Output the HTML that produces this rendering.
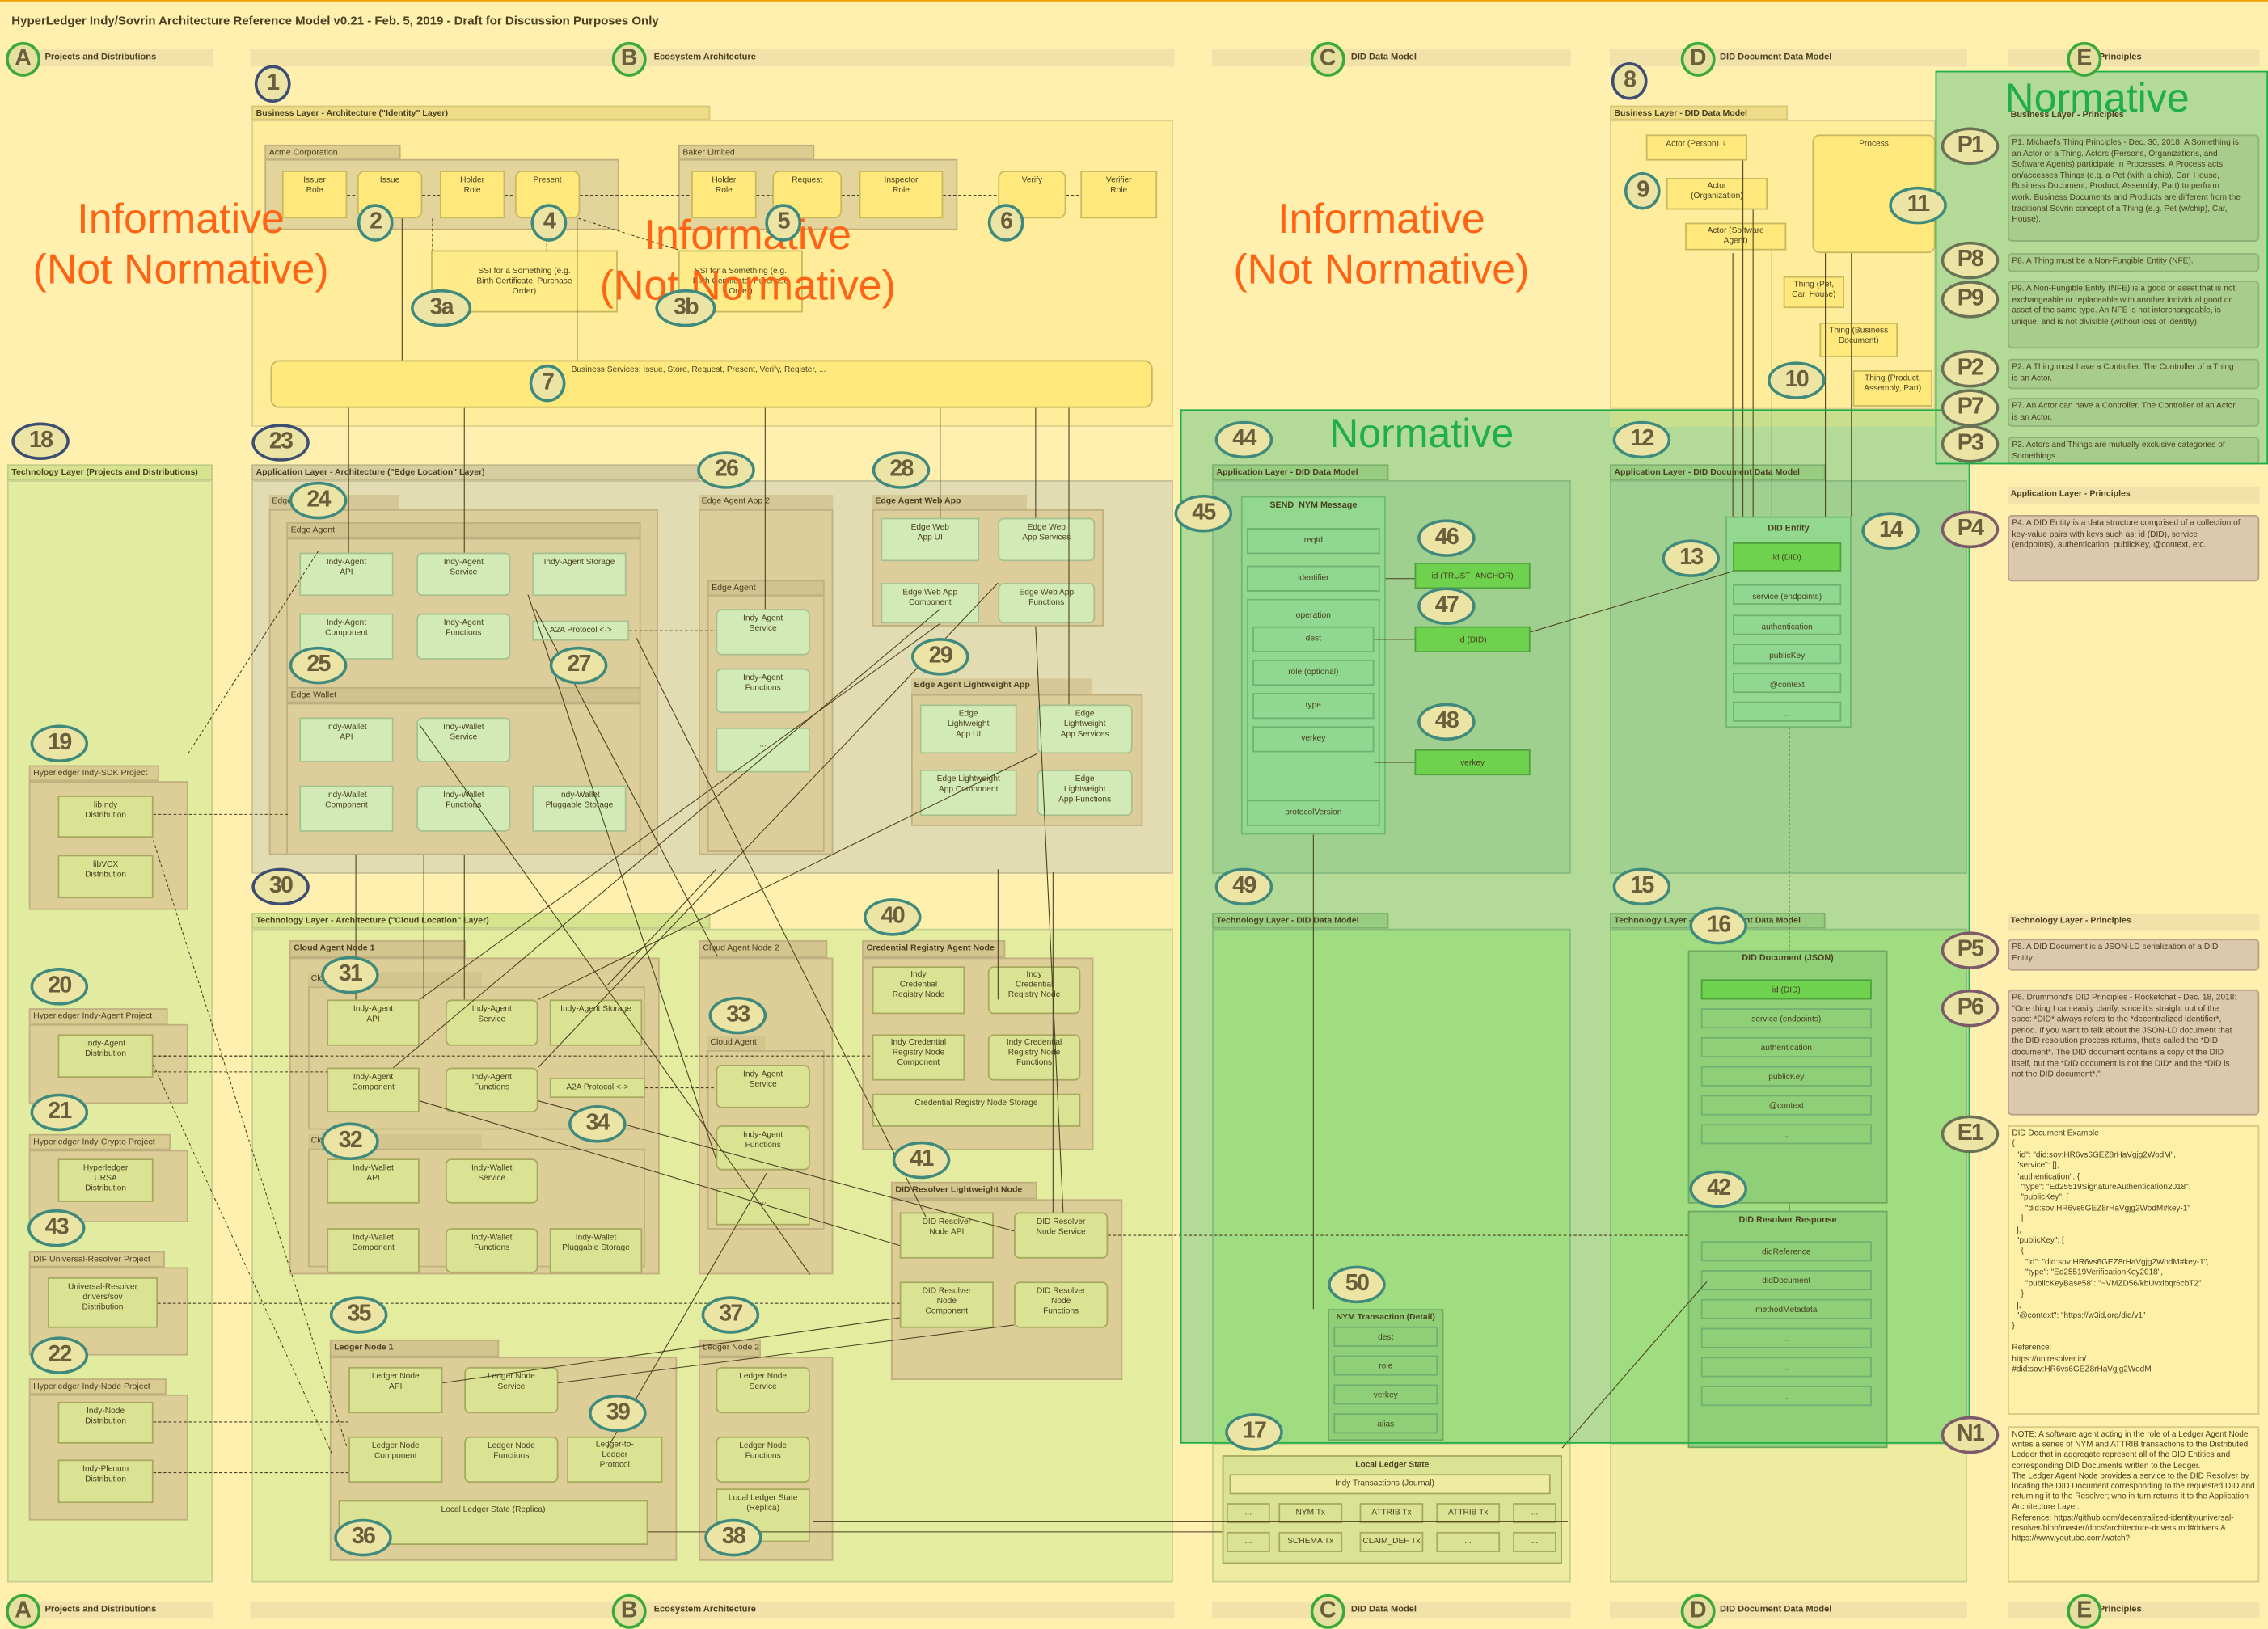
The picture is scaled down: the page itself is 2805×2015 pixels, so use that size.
<!DOCTYPE html>
<html><head><meta charset="utf-8">
<style>
html,body{margin:0;padding:0;width:2805px;height:2013px;overflow:hidden;background:#fff0b0}
#w{position:absolute;left:0;top:0;width:1568px;height:1125px;transform:scale(1.78890,1.78933);transform-origin:0 0;font-family:"Liberation Sans Narrow","Liberation Sans",sans-serif;color:#4a4020;background:#fff0b0;border-top:1px solid #f0a000}
.a{position:absolute;box-sizing:border-box}
.h{font-size:5.9px;line-height:10px;padding-left:2px;white-space:nowrap;overflow:hidden}
.hb{font-weight:bold}
.e{position:absolute;box-sizing:border-box;border:0.8px solid #a89c60;font-size:5.7px;line-height:7.2px;text-align:center;padding:3px 5px 0 5px;overflow:hidden}
.y{background:#ffe97c;border-color:#c8b860}
.gr{background:#d2ebb6;border-color:#a8c090}
.ol{background:#dae394;border-color:#a8a860}
.dg{background:#9ed88e;border-color:#70b070}
.bg{background:#6fd24e;border-color:#50a040}
.g{position:absolute;box-sizing:border-box;border-radius:50%;border:2.6px solid #3f8a7c;background:#ece4a4;color:#6a5e3c;font-weight:bold;font-size:16px;letter-spacing:-1px;text-align:center;line-height:21px;height:26px}
.nv{border-color:#3e4e72}
.lg{border-color:#3aa83a;border-width:2.2px;background:#e6e0a0;letter-spacing:0}
.pp{border-color:#7c5a6a}
.pg{border-color:#6a7256}
.bar{position:absolute;height:12px;background:#f2e2aa;font-size:6.2px;font-weight:bold;line-height:12px}
.inf{position:absolute;color:#ff6414;font-size:29px;text-align:center;line-height:35px;white-space:nowrap}
.nor{position:absolute;color:#1fae48;font-size:28px;white-space:nowrap}
.p{position:absolute;box-sizing:border-box;font-size:5.7px;line-height:7.6px;padding:2px 12px 2px 2px;border:0.8px solid #b8a088;border-radius:3px;background:#dcc8ac;overflow:hidden}
</style></head><body><div id="w">

<div class="a" style="left:8px;top:8px;font-size:8.4px;font-weight:bold">HyperLedger Indy/Sovrin Architecture Reference Model v0.21 - Feb. 5, 2019 - Draft for Discussion Purposes Only</div>

<div class="bar" style="left:5px;top:33px;width:142px"><span style="margin-left:26px">Projects and Distributions</span></div>
<div class="bar" style="left:173px;top:33px;width:639px"><span style="margin-left:279px">Ecosystem Architecture</span></div>
<div class="bar" style="left:838px;top:33px;width:248px"><span style="margin-left:96px">DID Data Model</span></div>
<div class="bar" style="left:1113px;top:33px;width:247px"><span style="margin-left:76px">DID Document Data Model</span></div>
<div class="bar" style="left:1388px;top:33px;width:174px"><span style="margin-left:63px">Principles</span></div>
<div class="bar" style="left:5px;top:1106px;width:142px"><span style="margin-left:26px">Projects and Distributions</span></div>
<div class="bar" style="left:173px;top:1106px;width:639px"><span style="margin-left:279px">Ecosystem Architecture</span></div>
<div class="bar" style="left:838px;top:1106px;width:248px"><span style="margin-left:96px">DID Data Model</span></div>
<div class="bar" style="left:1113px;top:1106px;width:247px"><span style="margin-left:76px">DID Document Data Model</span></div>
<div class="bar" style="left:1388px;top:1106px;width:174px"><span style="margin-left:63px">Principles</span></div>

<div class="a h hb" style="left:174px;top:72px;width:317px;height:10px;background:#eedc88;border:0.6px solid #d8c878">Business Layer - Architecture ("Identity" Layer)</div>
<div class="a" style="left:174px;top:82px;width:637px;height:212px;background:#ffed9c;border:0.6px solid #e0d090"></div>
<div class="a h" style="left:183px;top:99px;width:94px;height:10px;background:#dccc90;border:0.6px solid #c0b080">Acme Corporation</div>
<div class="a" style="left:183px;top:109px;width:245px;height:49px;background:#e2d49a;border:0.6px solid #c0b080"></div>
<div class="a h" style="left:469px;top:99px;width:94px;height:10px;background:#dccc90;border:0.6px solid #c0b080">Baker Limited</div>
<div class="a" style="left:469px;top:109px;width:193px;height:49px;background:#e2d49a;border:0.6px solid #c0b080"></div>
<div class="e y" style="left:195px;top:117px;width:45px;height:33px">Issuer<br>Role</div>
<div class="e y" style="left:247px;top:117px;width:45px;height:33px;border-radius:5px">Issue</div>
<div class="e y" style="left:304px;top:117px;width:45px;height:33px">Holder<br>Role</div>
<div class="e y" style="left:356px;top:117px;width:45px;height:33px;border-radius:5px">Present</div>
<div class="e y" style="left:478px;top:117px;width:45px;height:33px">Holder<br>Role</div>
<div class="e y" style="left:534px;top:117px;width:48px;height:33px;border-radius:5px">Request</div>
<div class="e y" style="left:594px;top:117px;width:58px;height:33px">Inspector<br>Role</div>
<div class="e y" style="left:690px;top:117px;width:47px;height:33px;border-radius:5px">Verify</div>
<div class="e y" style="left:747px;top:117px;width:53px;height:33px">Verifier<br>Role</div>
<div class="e y" style="left:298px;top:172px;width:129px;height:43px;padding-top:11px;background:#ffec88">SSI for a Something (e.g.<br>Birth Certificate, Purchase<br>Order)</div>
<div class="e y" style="left:469px;top:172px;width:86px;height:43px;padding-top:11px;background:#ffec88">SSI for a Something (e.g.<br>Birth Certificate, Purchase<br>Order)</div>
<div class="e y" style="left:187px;top:248px;width:610px;height:33px;border-radius:6px;text-align:left;padding-left:207px">Business Services: Issue, Store, Request, Present, Verify, Register, ...</div>

<div class="a h hb" style="left:174px;top:320px;width:309px;height:11px;background:#d4cea0;border:0.6px solid #c0b888">Application Layer - Architecture ("Edge Location" Layer)</div>
<div class="a" style="left:174px;top:331px;width:637px;height:272px;background:#e2dcb2;border:0.6px solid #c8c098"></div>
<div class="a h" style="left:186px;top:341px;width:90px;height:10px;background:#d6c896">Edge Agent App</div>
<div class="a" style="left:186px;top:351px;width:269px;height:239px;background:#dccd9a;border:0.6px solid #c0b080"></div>
<div class="a h" style="left:198px;top:360px;width:245px;height:11px;background:#d2c290;border:0.6px solid #c0b080">Edge Agent</div>
<div class="a" style="left:198px;top:371px;width:245px;height:105px;background:#dccd9a;border:0.6px solid #c0b080"></div>
<div class="a h" style="left:198px;top:474px;width:245px;height:11px;background:#d2c290;border:0.6px solid #c0b080">Edge Wallet</div>
<div class="a" style="left:198px;top:485px;width:245px;height:105px;background:#dccd9a;border:0.6px solid #c0b080"></div>
<div class="e gr" style="left:207px;top:381px;width:65px;height:30px">Indy-Agent<br>API</div>
<div class="e gr" style="left:288px;top:381px;width:65px;height:30px;border-radius:4px">Indy-Agent<br>Service</div>
<div class="e gr" style="left:368px;top:381px;width:65px;height:30px">Indy-Agent Storage</div>
<div class="e gr" style="left:207px;top:423px;width:65px;height:32px">Indy-Agent<br>Component</div>
<div class="e gr" style="left:288px;top:423px;width:65px;height:32px;border-radius:4px">Indy-Agent<br>Functions</div>
<div class="e gr" style="left:368px;top:428px;width:67px;height:14px;padding-top:3px">A2A Protocol &lt;·&gt;</div>
<div class="e gr" style="left:207px;top:495px;width:65px;height:31px">Indy-Wallet<br>API</div>
<div class="e gr" style="left:288px;top:495px;width:65px;height:31px;border-radius:4px">Indy-Wallet<br>Service</div>
<div class="e gr" style="left:207px;top:542px;width:65px;height:32px">Indy-Wallet<br>Component</div>
<div class="e gr" style="left:288px;top:542px;width:65px;height:32px;border-radius:4px">Indy-Wallet<br>Functions</div>
<div class="e gr" style="left:368px;top:542px;width:65px;height:32px">Indy-Wallet<br>Pluggable Storage</div>

<div class="a h" style="left:483px;top:341px;width:93px;height:10px;background:#d6c896">Edge Agent App 2</div>
<div class="a" style="left:483px;top:351px;width:93px;height:239px;background:#dccd9a;border:0.6px solid #c0b080"></div>
<div class="a h" style="left:489px;top:400px;width:81px;height:11px;background:#d2c290;border:0.6px solid #c0b080">Edge Agent</div>
<div class="a" style="left:489px;top:411px;width:81px;height:177px;background:#dccd9a;border:0.6px solid #c0b080"></div>
<div class="e gr" style="left:495px;top:420px;width:65px;height:32px;border-radius:4px">Indy-Agent<br>Service</div>
<div class="e gr" style="left:495px;top:461px;width:65px;height:31px;border-radius:4px">Indy-Agent<br>Functions</div>
<div class="e gr" style="left:495px;top:502px;width:65px;height:31px;padding-top:8px">...</div>

<div class="a h hb" style="left:603px;top:341px;width:107px;height:10px;background:#d6c896">Edge Agent Web App</div>
<div class="a" style="left:603px;top:351px;width:160px;height:81px;background:#dccd9a;border:0.6px solid #c0b080"></div>
<div class="e gr" style="left:609px;top:357px;width:68px;height:30px">Edge Web<br>App UI</div>
<div class="e gr" style="left:690px;top:357px;width:67px;height:30px;border-radius:4px">Edge Web<br>App Services</div>
<div class="e gr" style="left:609px;top:402px;width:68px;height:28px">Edge Web App<br>Component</div>
<div class="e gr" style="left:690px;top:402px;width:67px;height:28px;border-radius:4px">Edge Web App<br>Functions</div>

<div class="a h hb" style="left:630px;top:468px;width:125px;height:11px;background:#d6c896">Edge Agent Lightweight App</div>
<div class="a" style="left:630px;top:479px;width:160px;height:91px;background:#dccd9a;border:0.6px solid #c0b080"></div>
<div class="e gr" style="left:636px;top:486px;width:67px;height:34px">Edge<br>Lightweight<br>App UI</div>
<div class="e gr" style="left:717px;top:486px;width:66px;height:34px;border-radius:4px">Edge<br>Lightweight<br>App Services</div>
<div class="e gr" style="left:636px;top:531px;width:67px;height:32px">Edge Lightweight<br>App Component</div>
<div class="e gr" style="left:717px;top:531px;width:66px;height:32px;border-radius:4px">Edge<br>Lightweight<br>App Functions</div>

<div class="a h hb" style="left:5px;top:320px;width:142px;height:11px;background:#d6e490;border:0.6px solid #c0cc88">Technology Layer (Projects and Distributions)</div>
<div class="a" style="left:5px;top:331px;width:142px;height:762px;background:#e2eca0;border:0.6px solid #c8d090"></div>
<div class="a h" style="left:20px;top:528px;width:90px;height:11px;background:#dacb92;border:0.6px solid #c0b080">Hyperledger Indy-SDK Project</div>
<div class="a" style="left:20px;top:539px;width:110px;height:89px;background:#ddce98;border:0.6px solid #c0b080"></div>
<div class="e ol" style="left:40px;top:549px;width:66px;height:29px">libIndy<br>Distribution</div>
<div class="e ol" style="left:40px;top:590px;width:66px;height:30px">libVCX<br>Distribution</div>
<div class="a h" style="left:20px;top:696px;width:96px;height:11px;background:#dacb92;border:0.6px solid #c0b080">Hyperledger Indy-Agent Project</div>
<div class="a" style="left:20px;top:707px;width:110px;height:55px;background:#ddce98;border:0.6px solid #c0b080"></div>
<div class="e ol" style="left:40px;top:714px;width:66px;height:30px">Indy-Agent<br>Distribution</div>
<div class="a h" style="left:20px;top:783px;width:98px;height:11px;background:#dacb92;border:0.6px solid #c0b080">Hyperledger Indy-Crypto Project</div>
<div class="a" style="left:20px;top:794px;width:110px;height:50px;background:#ddce98;border:0.6px solid #c0b080"></div>
<div class="e ol" style="left:40px;top:800px;width:66px;height:30px">Hyperledger<br>URSA<br>Distribution</div>
<div class="a h" style="left:20px;top:864px;width:94px;height:11px;background:#dacb92;border:0.6px solid #c0b080">DIF Universal-Resolver Project</div>
<div class="a" style="left:20px;top:875px;width:110px;height:61px;background:#ddce98;border:0.6px solid #c0b080"></div>
<div class="e ol" style="left:33px;top:882px;width:76px;height:35px">Universal-Resolver<br>drivers/sov<br>Distribution</div>
<div class="a h" style="left:20px;top:952px;width:95px;height:11px;background:#dacb92;border:0.6px solid #c0b080">Hyperledger Indy-Node Project</div>
<div class="a" style="left:20px;top:963px;width:110px;height:87px;background:#ddce98;border:0.6px solid #c0b080"></div>
<div class="e ol" style="left:40px;top:968px;width:66px;height:29px">Indy-Node<br>Distribution</div>
<div class="e ol" style="left:40px;top:1008px;width:66px;height:30px">Indy-Plenum<br>Distribution</div>

<div class="a h hb" style="left:174px;top:630px;width:317px;height:11px;background:#d6e490;border:0.6px solid #c0cc88">Technology Layer - Architecture ("Cloud Location" Layer)</div>
<div class="a" style="left:174px;top:641px;width:637px;height:452px;background:#e4eca0;border:0.6px solid #c8d090"></div>
<div class="a h hb" style="left:200px;top:649px;width:122px;height:12px;background:#d4c48e;border:0.6px solid #c0b080">Cloud Agent Node 1</div>
<div class="a" style="left:200px;top:661px;width:256px;height:219px;background:#ddce98;border:0.6px solid #c0b080"></div>
<div class="a h" style="left:213px;top:671px;width:120px;height:10px;background:#d4c48e">Cloud Agent</div>
<div class="a" style="left:213px;top:681px;width:233px;height:99px;background:#ddce98;border:0.6px solid #c0b080"></div>
<div class="a h" style="left:213px;top:783px;width:120px;height:10px;background:#d4c48e">Cloud Wallet</div>
<div class="a" style="left:213px;top:793px;width:233px;height:82px;background:#ddce98;border:0.6px solid #c0b080"></div>
<div class="e ol" style="left:226px;top:690px;width:64px;height:32px">Indy-Agent<br>API</div>
<div class="e ol" style="left:308px;top:690px;width:64px;height:32px;border-radius:4px">Indy-Agent<br>Service</div>
<div class="e ol" style="left:380px;top:690px;width:64px;height:32px">Indy-Agent Storage</div>
<div class="e ol" style="left:226px;top:737px;width:64px;height:31px">Indy-Agent<br>Component</div>
<div class="e ol" style="left:308px;top:737px;width:64px;height:31px;border-radius:4px">Indy-Agent<br>Functions</div>
<div class="e ol" style="left:380px;top:744px;width:66px;height:14px;padding-top:3px">A2A Protocol &lt;·&gt;</div>
<div class="e ol" style="left:226px;top:800px;width:64px;height:31px">Indy-Wallet<br>API</div>
<div class="e ol" style="left:308px;top:800px;width:64px;height:31px;border-radius:4px">Indy-Wallet<br>Service</div>
<div class="e ol" style="left:226px;top:848px;width:64px;height:31px">Indy-Wallet<br>Component</div>
<div class="e ol" style="left:308px;top:848px;width:64px;height:31px;border-radius:4px">Indy-Wallet<br>Functions</div>
<div class="e ol" style="left:380px;top:848px;width:64px;height:31px">Indy-Wallet<br>Pluggable Storage</div>

<div class="a h" style="left:483px;top:649px;width:89px;height:12px;background:#d4c48e;border:0.6px solid #c0b080">Cloud Agent Node 2</div>
<div class="a" style="left:483px;top:661px;width:93px;height:219px;background:#ddce98;border:0.6px solid #c0b080"></div>
<div class="a h" style="left:489px;top:715px;width:40px;height:10px;background:#d4c48e">Cloud Agent</div>
<div class="a" style="left:489px;top:725px;width:81px;height:124px;background:#ddce98;border:0.6px solid #c0b080"></div>
<div class="e ol" style="left:495px;top:735px;width:65px;height:30px;border-radius:4px">Indy-Agent<br>Service</div>
<div class="e ol" style="left:495px;top:777px;width:65px;height:31px;border-radius:4px">Indy-Agent<br>Functions</div>
<div class="e ol" style="left:495px;top:820px;width:65px;height:26px;padding-top:6px">...</div>

<div class="a h hb" style="left:596px;top:649px;width:99px;height:12px;background:#d4c48e;border:0.6px solid #c0b080">Credential Registry Agent Node</div>
<div class="a" style="left:596px;top:661px;width:160px;height:133px;background:#ddce98;border:0.6px solid #c0b080"></div>
<div class="e ol" style="left:603px;top:667px;width:64px;height:33px;padding-top:2px">Indy<br>Credential<br>Registry Node</div>
<div class="e ol" style="left:683px;top:667px;width:64px;height:33px;padding-top:2px;border-radius:4px">Indy<br>Credential<br>Registry Node</div>
<div class="e ol" style="left:603px;top:714px;width:64px;height:32px;padding-top:2px">Indy Credential<br>Registry Node<br>Component</div>
<div class="e ol" style="left:683px;top:714px;width:64px;height:32px;padding-top:2px;border-radius:4px">Indy Credential<br>Registry Node<br>Functions</div>
<div class="e ol" style="left:603px;top:755px;width:144px;height:23px">Credential Registry Node Storage</div>

<div class="a h hb" style="left:616px;top:816px;width:101px;height:12px;background:#d4c48e;border:0.6px solid #c0b080">DID Resolver Lightweight Node</div>
<div class="a" style="left:616px;top:828px;width:160px;height:125px;background:#ddce98;border:0.6px solid #c0b080"></div>
<div class="e ol" style="left:622px;top:837px;width:65px;height:32px">DID Resolver<br>Node API</div>
<div class="e ol" style="left:701px;top:837px;width:65px;height:32px;border-radius:4px">DID Resolver<br>Node Service</div>
<div class="e ol" style="left:622px;top:885px;width:65px;height:32px">DID Resolver<br>Node<br>Component</div>
<div class="e ol" style="left:701px;top:885px;width:65px;height:32px;border-radius:4px">DID Resolver<br>Node<br>Functions</div>

<div class="a h hb" style="left:228px;top:925px;width:117px;height:12px;background:#d4c48e;border:0.6px solid #c0b080">Ledger Node 1</div>
<div class="a" style="left:228px;top:937px;width:240px;height:141px;background:#ddce98;border:0.6px solid #c0b080"></div>
<div class="e ol" style="left:241px;top:944px;width:65px;height:32px">Ledger Node<br>API</div>
<div class="e ol" style="left:321px;top:944px;width:65px;height:32px;border-radius:4px">Ledger Node<br>Service</div>
<div class="e ol" style="left:241px;top:992px;width:65px;height:32px">Ledger Node<br>Component</div>
<div class="e ol" style="left:321px;top:992px;width:65px;height:32px;border-radius:4px">Ledger Node<br>Functions</div>
<div class="e ol" style="left:392px;top:992px;width:66px;height:32px;padding-top:2px">Ledger-to-<br>Ledger<br>Protocol</div>
<div class="e ol" style="left:234px;top:1036px;width:214px;height:31px">Local Ledger State (Replica)</div>
<div class="a h" style="left:483px;top:925px;width:43px;height:12px;background:#d4c48e;border:0.6px solid #c0b080">Ledger Node 2</div>
<div class="a" style="left:483px;top:937px;width:93px;height:141px;background:#ddce98;border:0.6px solid #c0b080"></div>
<div class="e ol" style="left:495px;top:944px;width:65px;height:32px;border-radius:4px">Ledger Node<br>Service</div>
<div class="e ol" style="left:495px;top:992px;width:65px;height:32px;border-radius:4px">Ledger Node<br>Functions</div>
<div class="e ol" style="left:495px;top:1028px;width:65px;height:37px">Local Ledger State<br>(Replica)</div>

<div class="a" style="left:816px;top:282px;width:546px;height:715px;background:#b3da96"></div>
<div class="a" style="left:1338px;top:48px;width:230px;height:272px;background:#b3da96"></div>

<div class="a h hb" style="left:1113px;top:72px;width:123px;height:10px;background:#eedc88;border:0.6px solid #d8c878">Business Layer - DID Data Model</div>
<div class="a" style="left:1113px;top:82px;width:225px;height:200px;background:#ffed9c;border:0.6px solid #e0d090"></div>
<div class="a" style="left:1113px;top:282px;width:225px;height:12px;background:#c8e08e"></div>
<div class="e y" style="left:1138px;top:92px;width:70px;height:18px">Actor (Person) ♀</div>
<div class="e y" style="left:1152px;top:122px;width:70px;height:22px;padding-top:2px">Actor<br>(Organization)</div>
<div class="e y" style="left:1165px;top:153px;width:70px;height:19px;padding-top:2px">Actor (Software<br>Agent)</div>
<div class="e y" style="left:1253px;top:92px;width:85px;height:82px;border-radius:5px">Process</div>
<div class="e y" style="left:1233px;top:190px;width:42px;height:22px;padding:2px">Thing (Pet,<br>Car, House)</div>
<div class="e y" style="left:1258px;top:222px;width:54px;height:24px;padding:2px">Thing (Business<br>Document)</div>
<div class="e y" style="left:1281px;top:255px;width:55px;height:25px;padding:2px">Thing (Product,<br>Assembly, Part)</div>

<div class="a h hb" style="left:838px;top:320px;width:122px;height:11px;background:#98cc80;border:0.6px solid #80b070">Application Layer - DID Data Model</div>
<div class="a" style="left:838px;top:331px;width:248px;height:272px;background:#a0d090;border:0.6px solid #88bb80"></div>
<div class="a" style="left:858px;top:342px;width:100px;height:234px;background:#92d88e;border:0.8px solid #70b870"></div>
<div class="a" style="left:858px;top:346px;width:100px;font-size:6px;font-weight:bold;text-align:center">SEND_NYM Message</div>
<div class="e dg" style="left:862px;top:364px;width:92px;height:18px;padding-top:5px;background:#90d890">reqId</div>
<div class="e dg" style="left:862px;top:390px;width:92px;height:18px;padding-top:5px;background:#90d890">identifier</div>
<div class="a" style="left:862px;top:413px;width:92px;height:142px;border:0.8px solid #70b870;background:#90d890"></div>
<div class="a" style="left:862px;top:422px;width:92px;font-size:5.8px;text-align:center">operation</div>
<div class="e dg" style="left:866px;top:432px;width:84px;height:18px;padding-top:5px;background:#90d890">dest</div>
<div class="e dg" style="left:866px;top:455px;width:84px;height:18px;padding-top:5px;background:#90d890">role (optional)</div>
<div class="e dg" style="left:866px;top:478px;width:84px;height:18px;padding-top:5px;background:#90d890">type</div>
<div class="e dg" style="left:866px;top:501px;width:84px;height:18px;padding-top:5px;background:#90d890">verkey</div>
<div class="e dg" style="left:862px;top:552px;width:92px;height:18px;padding-top:5px;background:#90d890">protocolVersion</div>
<div class="e bg" style="left:978px;top:388px;width:80px;height:18px;padding-top:6px">id (TRUST_ANCHOR)</div>
<div class="e bg" style="left:978px;top:432px;width:80px;height:18px;padding-top:6px">id (DID)</div>
<div class="e bg" style="left:978px;top:517px;width:80px;height:18px;padding-top:6px">verkey</div>

<div class="a h hb" style="left:1113px;top:320px;width:149px;height:11px;background:#98cc80;border:0.6px solid #80b070">Application Layer - DID Document Data Model</div>
<div class="a" style="left:1113px;top:331px;width:247px;height:272px;background:#a0d090;border:0.6px solid #88bb80"></div>
<div class="a" style="left:1193px;top:356px;width:87px;height:146px;background:#92d88e;border:0.8px solid #70b870"></div>
<div class="a" style="left:1193px;top:362px;width:87px;font-size:6px;font-weight:bold;text-align:center">DID Entity</div>
<div class="e bg" style="left:1198px;top:374px;width:75px;height:20px;padding-top:7px">id (DID)</div>
<div class="e dg" style="left:1198px;top:403px;width:75px;height:14px;padding-top:5px;background:#90d890">service (endpoints)</div>
<div class="e dg" style="left:1198px;top:424px;width:75px;height:14px;padding-top:5px;background:#90d890">authentication</div>
<div class="e dg" style="left:1198px;top:444px;width:75px;height:14px;padding-top:5px;background:#90d890">publicKey</div>
<div class="e dg" style="left:1198px;top:464px;width:75px;height:14px;padding-top:5px;background:#90d890">@context</div>
<div class="e dg" style="left:1198px;top:484px;width:75px;height:14px;padding-top:5px;background:#90d890">...</div>

<div class="a h hb" style="left:838px;top:630px;width:122px;height:11px;background:#98cc80;border:0.6px solid #80b070">Technology Layer - DID Data Model</div>
<div class="a" style="left:838px;top:641px;width:248px;height:356px;background:#a0dc80;border:0.6px solid #88bb80"></div>
<div class="a" style="left:838px;top:997px;width:248px;height:96px;background:#eeeca0;border:0.6px solid #c8d090"></div>
<div class="a" style="left:918px;top:904px;width:80px;height:91px;background:#8fcf78;border:0.8px solid #70a860"></div>
<div class="a" style="left:918px;top:907px;width:80px;font-size:5.8px;font-weight:bold;text-align:center">NYM Transaction (Detail)</div>
<div class="e dg" style="left:922px;top:916px;width:72px;height:14px;padding-top:4px;background:#8fcf78">dest</div>
<div class="e dg" style="left:922px;top:936px;width:72px;height:14px;padding-top:4px;background:#8fcf78">role</div>
<div class="e dg" style="left:922px;top:956px;width:72px;height:14px;padding-top:4px;background:#8fcf78">verkey</div>
<div class="e dg" style="left:922px;top:976px;width:72px;height:14px;padding-top:4px;background:#8fcf78">alias</div>
<div class="e ol" style="left:845px;top:1005px;width:235px;height:75px;font-weight:bold;padding-top:3px">Local Ledger State</div>
<div class="e ol" style="left:850px;top:1018px;width:222px;height:14px;padding-top:3px;text-align:left;padding-left:72px;background:#eeeca0">Indy Transactions (Journal)</div>
<div class="e ol" style="left:848px;top:1038px;width:30px;height:14px;padding:3px 0">...</div>
<div class="e ol" style="left:884px;top:1038px;width:44px;height:14px;padding:3px 0">NYM Tx</div>
<div class="e ol" style="left:940px;top:1038px;width:44px;height:14px;padding:3px 0">ATTRIB Tx</div>
<div class="e ol" style="left:993px;top:1038px;width:44px;height:14px;padding:3px 0">ATTRIB Tx</div>
<div class="e ol" style="left:1046px;top:1038px;width:30px;height:14px;padding:3px 0">...</div>
<div class="e ol" style="left:848px;top:1058px;width:30px;height:14px;padding:3px 0">...</div>
<div class="e ol" style="left:884px;top:1058px;width:44px;height:14px;padding:3px 0">SCHEMA Tx</div>
<div class="e ol" style="left:940px;top:1058px;width:44px;height:14px;padding:3px 0">CLAIM_DEF Tx</div>
<div class="e ol" style="left:993px;top:1058px;width:44px;height:14px;padding:3px 0">...</div>
<div class="e ol" style="left:1046px;top:1058px;width:30px;height:14px;padding:3px 0">...</div>

<div class="a h hb" style="left:1113px;top:630px;width:149px;height:11px;background:#98cc80;border:0.6px solid #80b070">Technology Layer - DID Document Data Model</div>
<div class="a" style="left:1113px;top:641px;width:247px;height:356px;background:#a0dc80;border:0.6px solid #88bb80"></div>
<div class="a" style="left:1113px;top:997px;width:247px;height:96px;background:#eeeca0;border:0.6px solid #c8d090"></div>
<div class="a" style="left:1167px;top:656px;width:138px;height:175px;background:#8fcf78;border:0.8px solid #70a860"></div>
<div class="a" style="left:1167px;top:659px;width:138px;font-size:6px;font-weight:bold;text-align:center">DID Document (JSON)</div>
<div class="e bg" style="left:1176px;top:676px;width:118px;height:14px;padding-top:4px">id (DID)</div>
<div class="e dg" style="left:1176px;top:696px;width:118px;height:14px;padding-top:4px;background:#8fcf78">service (endpoints)</div>
<div class="e dg" style="left:1176px;top:716px;width:118px;height:14px;padding-top:4px;background:#8fcf78">authentication</div>
<div class="e dg" style="left:1176px;top:736px;width:118px;height:14px;padding-top:4px;background:#8fcf78">publicKey</div>
<div class="e dg" style="left:1176px;top:756px;width:118px;height:14px;padding-top:4px;background:#8fcf78">@context</div>
<div class="e dg" style="left:1176px;top:776px;width:118px;height:14px;padding-top:4px;background:#8fcf78">...</div>
<div class="a" style="left:1167px;top:836px;width:138px;height:164px;background:#8fcf78;border:0.8px solid #70a860"></div>
<div class="a" style="left:1167px;top:840px;width:138px;font-size:6px;font-weight:bold;text-align:center">DID Resolver Response</div>
<div class="e dg" style="left:1176px;top:857px;width:118px;height:14px;padding-top:4px;background:#8fcf78">didReference</div>
<div class="e dg" style="left:1176px;top:877px;width:118px;height:14px;padding-top:4px;background:#8fcf78">didDocument</div>
<div class="e dg" style="left:1176px;top:897px;width:118px;height:14px;padding-top:4px;background:#8fcf78">methodMetadata</div>
<div class="e dg" style="left:1176px;top:917px;width:118px;height:14px;padding-top:4px;background:#8fcf78">...</div>
<div class="e dg" style="left:1176px;top:937px;width:118px;height:14px;padding-top:4px;background:#8fcf78">...</div>
<div class="e dg" style="left:1176px;top:957px;width:118px;height:14px;padding-top:4px;background:#8fcf78">...</div>

<div class="p" style="left:1388px;top:92px;width:174px;height:74px;background:#a8cc8c;border-color:#90b078">P1. Michael's Thing Principles - Dec. 30, 2018: A Something is an Actor or a Thing. Actors (Persons, Organizations, and Software Agents) participate in Processes. A Process acts on/accesses Things (e.g. a Pet (with a chip), Car, House, Business Document, Product, Assembly, Part) to perform work. Business Documents and Products are different from the traditional Sovrin concept of a Thing (e.g. Pet (w/chip), Car, House).</div>
<div class="p" style="left:1388px;top:174px;width:174px;height:13px;background:#a8cc8c;border-color:#90b078">P8. A Thing must be a Non-Fungible Entity (NFE).</div>
<div class="p" style="left:1388px;top:193px;width:174px;height:47px;background:#a8cc8c;border-color:#90b078">P9. A Non-Fungible Entity (NFE) is a good or asset that is not exchangeable or replaceable with another individual good or asset of the same type. An NFE is not interchangeable, is unique, and is not divisible (without loss of identity).</div>
<div class="p" style="left:1388px;top:247px;width:174px;height:21px;background:#a8cc8c;border-color:#90b078">P2. A Thing must have a Controller. The Controller of a Thing is an Actor.</div>
<div class="p" style="left:1388px;top:274px;width:174px;height:20px;background:#a8cc8c;border-color:#90b078">P7. An Actor can have a Controller. The Controller of an Actor is an Actor.</div>
<div class="p" style="left:1388px;top:301px;width:174px;height:19px;background:#a8cc8c;border-color:#90b078">P3. Actors and Things are mutually exclusive categories of Somethings.</div>
<div class="a h hb" style="left:1388px;top:336px;width:174px;height:11px;background:#f2e2aa">Application Layer - Principles</div>
<div class="p" style="left:1388px;top:355px;width:174px;height:46px">P4. A DID Entity is a data structure comprised of a collection of key-value pairs with keys such as: id (DID), service (endpoints), authentication, publicKey, @context, etc.</div>
<div class="a h hb" style="left:1388px;top:631px;width:174px;height:11px;background:#f2e2aa">Technology Layer - Principles</div>
<div class="p" style="left:1388px;top:648px;width:174px;height:22px">P5. A DID Document is a JSON-LD serialization of a DID Entity.</div>
<div class="p" style="left:1388px;top:683px;width:174px;height:87px">P6. Drummond's DID Principles - Rocketchat - Dec. 18, 2018: "One thing I can easily clarify, since it's straight out of the spec: *DID* always refers to the *decentralized identifier*, period. If you want to talk about the JSON-LD document that the DID resolution process returns, that's called the *DID document*. The DID document contains a copy of the DID itself, but the *DID document is not the DID* and the *DID is not the DID document*."</div>
<div class="p" style="left:1388px;top:777px;width:174px;height:200px;background:#fff0a8;border-color:#d8c880;border-radius:0;white-space:pre;font-size:5.6px;line-height:7.4px">DID Document Example
{
  "id": "did:sov:HR6vs6GEZ8rHaVgjg2WodM",
  "service": [],
  "authentication": {
    "type": "Ed25519SignatureAuthentication2018",
    "publicKey": [
      "did:sov:HR6vs6GEZ8rHaVgjg2WodM#key-1"
    ]
  },
  "publicKey": [
    {
      "id": "did:sov:HR6vs6GEZ8rHaVgjg2WodM#key-1",
      "type": "Ed25519VerificationKey2018",
      "publicKeyBase58": "~VMZD56/kbUvxibqr6cbT2"
    }
  ],
  "@context": "https://w3id.org/did/v1"
}

Reference:
https://uniresolver.io/
#did:sov:HR6vs6GEZ8rHaVgjg2WodM</div>
<div class="p" style="left:1388px;top:985px;width:174px;height:108px;background:#fff0a8;border-color:#d8c880;border-radius:0;padding-right:2px;font-size:5.6px;line-height:7.2px">NOTE: A software agent acting in the role of a Ledger Agent Node writes a series of NYM and ATTRIB transactions to the Distributed Ledger that in aggregate represent all of the DID Entities and corresponding DID Documents written to the Ledger.<br>The Ledger Agent Node provides a service to the DID Resolver by locating the DID Document corresponding to the requested DID and returning it to the Resolver; who in turn returns it to the Application Architecture Layer.<br>Reference: https://github.com/decentralized-identity/universal-resolver/blob/master/docs/architecture-drivers.md#drivers &amp; https://www.youtube.com/watch?</div>

<svg class="a" style="left:0;top:0" width="1568" height="1125" viewBox="0 0 1568 1125" fill="none" stroke="#4a4020" stroke-width="0.6">
<g>
<line x1="278" y1="248" x2="278" y2="150"/><line x1="399" y1="248" x2="399" y2="150"/>
<line x1="241" y1="281" x2="241" y2="381"/><line x1="321" y1="281" x2="321" y2="381"/><line x1="529" y1="281" x2="529" y2="420"/>
<line x1="650" y1="281" x2="650" y2="357"/><line x1="716" y1="281" x2="716" y2="357"/><line x1="739" y1="281" x2="739" y2="486"/>
<line x1="246" y1="590" x2="246" y2="690"/><line x1="293" y1="590" x2="293" y2="690"/><line x1="321" y1="590" x2="321" y2="690"/>
<line x1="272" y1="737" x2="650" y2="420"/><line x1="290" y1="690" x2="650" y2="430"/><line x1="372" y1="690" x2="717" y2="520"/><line x1="372" y1="737" x2="690" y2="402"/>
<line x1="290" y1="760" x2="622" y2="860"/><line x1="372" y1="760" x2="701" y2="850"/><line x1="420" y1="680" x2="495" y2="600"/>
<line x1="306" y1="955" x2="622" y2="910"/><line x1="386" y1="955" x2="701" y2="915"/><line x1="365" y1="410" x2="495" y2="800"/><line x1="290" y1="500" x2="560" y2="880"/>
<line x1="440" y1="440" x2="640" y2="840"/><line x1="496" y1="660" x2="370" y2="420"/><line x1="530" y1="810" x2="420" y2="1000"/>
<line x1="728" y1="602" x2="728" y2="837"/><line x1="716" y1="432" x2="735" y2="837"/><line x1="690" y1="600" x2="690" y2="690"/>
<line x1="562" y1="1051" x2="1084" y2="1051"/><line x1="448" y1="1058" x2="845" y2="1058"/>
<line x1="1080" y1="1000" x2="1180" y2="885"/>
<line x1="908" y1="576" x2="908" y2="904"/>
<line x1="958" y1="399" x2="978" y2="399"/><line x1="950" y1="441" x2="978" y2="441"/><line x1="950" y1="526" x2="978" y2="526"/>
<line x1="1058" y1="436" x2="1198" y2="394"/>
<line x1="1198" y1="174" x2="1198" y2="356"/><line x1="1205" y1="110" x2="1205" y2="356"/><line x1="1212" y1="144" x2="1212" y2="356"/><line x1="1225" y1="172" x2="1225" y2="356"/>
<line x1="1262" y1="174" x2="1262" y2="356"/><line x1="1280" y1="174" x2="1280" y2="356"/>
<line x1="1237" y1="502" x2="1237" y2="656" stroke-dasharray="1.5,1.5"/>
<line x1="1237" y1="831" x2="1237" y2="836"/>
</g>
<g stroke-dasharray="2,1.5">
<line x1="240" y1="134" x2="247" y2="134"/><line x1="292" y1="134" x2="304" y2="134"/><line x1="349" y1="134" x2="356" y2="134"/><line x1="401" y1="134" x2="478" y2="134"/>
<line x1="523" y1="134" x2="534" y2="134"/><line x1="582" y1="134" x2="594" y2="134"/><line x1="652" y1="134" x2="690" y2="134"/><line x1="737" y1="134" x2="747" y2="134"/>
<line x1="299" y1="150" x2="299" y2="172"/><line x1="378" y1="150" x2="378" y2="172"/><line x1="400" y1="150" x2="470" y2="172"/>
<line x1="435" y1="435" x2="495" y2="435"/><line x1="446" y1="751" x2="495" y2="751"/>
<line x1="106" y1="562" x2="200" y2="562"/><line x1="106" y1="729" x2="226" y2="729"/><line x1="106" y1="740" x2="226" y2="740"/><line x1="109" y1="900" x2="622" y2="900"/>
<line x1="106" y1="982" x2="241" y2="982"/><line x1="106" y1="1017" x2="241" y2="1017"/>
<line x1="106" y1="729" x2="603" y2="729"/><line x1="766" y1="853" x2="1167" y2="853"/>
<line x1="130" y1="520" x2="220" y2="380"/><line x1="106" y1="580" x2="240" y2="1000"/><line x1="106" y1="735" x2="230" y2="1005"/>
</g>
</svg>

<div class="a" style="left:816px;top:282px;width:546px;height:715px;border:1.6px solid #1fae48"></div>
<div class="a" style="left:1338px;top:48px;width:230px;height:272px;border:1.6px solid #1fae48"></div>
<div class="nor" style="left:919px;top:283px">Normative</div>
<div class="nor" style="left:1386px;top:51px">Normative</div>
<div class="a" style="left:1390px;top:76px;font-size:6px;font-weight:bold">Business Layer - Principles</div>

<div class="inf" style="left:0;top:134px;width:250px">Informative<br>(Not Normative)</div>
<div class="inf" style="left:392px;top:145px;width:250px">Informative<br>(Not Normative)</div>
<div class="inf" style="left:830px;top:134px;width:250px">Informative<br>(Not Normative)</div>

<div class="g lg" style="left:4px;top:28px;width:24px;height:24px;line-height:19px">A</div>
<div class="g lg" style="left:423px;top:28px;width:24px;height:24px;line-height:19px">B</div>
<div class="g lg" style="left:906px;top:28px;width:24px;height:24px;line-height:19px">C</div>
<div class="g lg" style="left:1162px;top:28px;width:24px;height:24px;line-height:19px">D</div>
<div class="g lg" style="left:1429px;top:28px;width:24px;height:24px;line-height:19px">E</div>
<div class="g lg" style="left:4px;top:1101px;width:24px;height:24px;line-height:19px">A</div>
<div class="g lg" style="left:423px;top:1101px;width:24px;height:24px;line-height:19px">B</div>
<div class="g lg" style="left:906px;top:1101px;width:24px;height:24px;line-height:19px">C</div>
<div class="g lg" style="left:1162px;top:1101px;width:24px;height:24px;line-height:19px">D</div>
<div class="g lg" style="left:1429px;top:1101px;width:24px;height:24px;line-height:19px">E</div>

<div class="g nv" style="left:176px;top:44px;width:25px">1</div>
<div class="g nv" style="left:1114px;top:42px;width:25px">8</div>
<div class="g nv" style="left:8px;top:291px;width:40px">18</div>
<div class="g nv" style="left:174px;top:292px;width:40px">23</div>
<div class="g nv" style="left:174px;top:599px;width:40px">30</div>
<div class="g" style="left:247px;top:140px;width:25px">2</div>
<div class="g" style="left:367px;top:140px;width:25px">4</div>
<div class="g" style="left:529px;top:140px;width:25px">5</div>
<div class="g" style="left:683px;top:140px;width:25px">6</div>
<div class="g" style="left:366px;top:251px;width:25px">7</div>
<div class="g" style="left:284px;top:199px;width:42px">3a</div>
<div class="g" style="left:453px;top:199px;width:42px">3b</div>
<div class="g" style="left:1123px;top:118px;width:25px">9</div>
<div class="g" style="left:1222px;top:249px;width:40px">10</div>
<div class="g" style="left:1306px;top:128px;width:40px">11</div>
<div class="g" style="left:482px;top:311px;width:40px">26</div>
<div class="g" style="left:603px;top:311px;width:40px">28</div>
<div class="g" style="left:200px;top:332px;width:40px">24</div>
<div class="g" style="left:200px;top:446px;width:40px">25</div>
<div class="g" style="left:380px;top:446px;width:40px">27</div>
<div class="g" style="left:630px;top:440px;width:40px">29</div>
<div class="g" style="left:21px;top:500px;width:40px">19</div>
<div class="g" style="left:21px;top:668px;width:40px">20</div>
<div class="g" style="left:21px;top:755px;width:40px">21</div>
<div class="g" style="left:19px;top:835px;width:40px">43</div>
<div class="g" style="left:21px;top:923px;width:40px">22</div>
<div class="g" style="left:222px;top:660px;width:40px">31</div>
<div class="g" style="left:222px;top:775px;width:40px">32</div>
<div class="g" style="left:490px;top:688px;width:40px">33</div>
<div class="g" style="left:393px;top:763px;width:40px">34</div>
<div class="g" style="left:228px;top:895px;width:40px">35</div>
<div class="g" style="left:231px;top:1049px;width:40px">36</div>
<div class="g" style="left:485px;top:895px;width:40px">37</div>
<div class="g" style="left:487px;top:1049px;width:40px">38</div>
<div class="g" style="left:407px;top:963px;width:40px">39</div>
<div class="g" style="left:597px;top:620px;width:40px">40</div>
<div class="g" style="left:617px;top:788px;width:40px">41</div>
<div class="g" style="left:840px;top:290px;width:40px">44</div>
<div class="g" style="left:1115px;top:290px;width:40px">12</div>
<div class="g" style="left:812px;top:341px;width:40px">45</div>
<div class="g" style="left:980px;top:358px;width:40px">46</div>
<div class="g" style="left:980px;top:405px;width:40px">47</div>
<div class="g" style="left:980px;top:485px;width:40px">48</div>
<div class="g" style="left:1149px;top:372px;width:40px">13</div>
<div class="g" style="left:1287px;top:353px;width:40px">14</div>
<div class="g" style="left:840px;top:599px;width:40px">49</div>
<div class="g" style="left:1115px;top:599px;width:40px">15</div>
<div class="g" style="left:1168px;top:626px;width:40px">16</div>
<div class="g" style="left:1168px;top:808px;width:40px">42</div>
<div class="g" style="left:918px;top:874px;width:40px">50</div>
<div class="g" style="left:847px;top:976px;width:40px">17</div>
<div class="g pg" style="left:1342px;top:87px;width:40px">P1</div>
<div class="g pg" style="left:1342px;top:166px;width:40px">P8</div>
<div class="g pg" style="left:1342px;top:193px;width:40px">P9</div>
<div class="g pg" style="left:1342px;top:241px;width:40px">P2</div>
<div class="g pg" style="left:1342px;top:268px;width:40px">P7</div>
<div class="g pg" style="left:1342px;top:293px;width:40px">P3</div>
<div class="g pp" style="left:1342px;top:352px;width:40px">P4</div>
<div class="g pp" style="left:1342px;top:643px;width:40px">P5</div>
<div class="g pp" style="left:1342px;top:683px;width:40px">P6</div>
<div class="g pg" style="left:1342px;top:770px;width:40px">E1</div>
<div class="g pp" style="left:1342px;top:978px;width:40px">N1</div>

</div></body></html>
